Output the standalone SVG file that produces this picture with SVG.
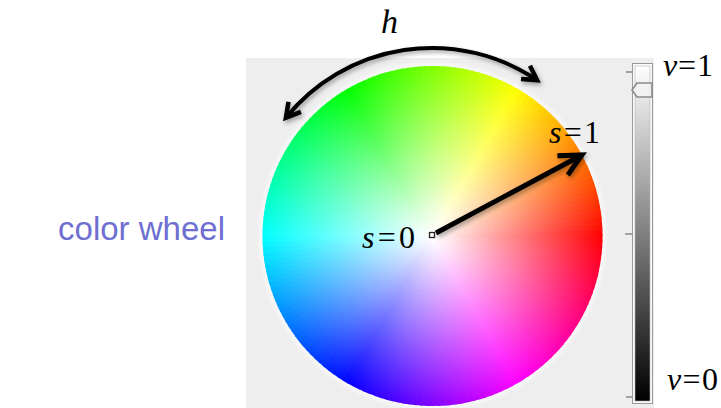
<svg xmlns="http://www.w3.org/2000/svg" xmlns:xlink="http://www.w3.org/1999/xlink" width="721" height="408" viewBox="0 0 721 408">
<style>
.math{font-family:"Liberation Serif","Times New Roman",serif;font-size:32px;fill:#000}
.var{font-style:italic}
.lbl{font-family:"Liberation Sans",Arial,sans-serif;font-size:33px;fill:#6f6fd2}
.tick{stroke:#8a8a8a;stroke-width:1.5}
.conn{fill:none;stroke:#000;stroke-linecap:butt}
</style>
<defs>
<path id="w" d="M0,0 L170,0 A170,170 0 0 0 169.838,-7.415 Z"/>
<radialGradient id="sat" cx="0.5" cy="0.5" r="0.5">
<stop offset="0" stop-color="#fff" stop-opacity="1"/>
<stop offset="1" stop-color="#fff" stop-opacity="0"/>
</radialGradient>
<linearGradient id="vgrad" x1="0" y1="0" x2="0" y2="1">
<stop offset="0" stop-color="#ffffff"/>
<stop offset="1" stop-color="#000000"/>
</linearGradient>
<filter id="blur" x="-10%" y="-10%" width="120%" height="120%"><feGaussianBlur stdDeviation="2"/></filter>
<filter id="sh" x="-20%" y="-20%" width="140%" height="160%"><feDropShadow dx="1.5" dy="2.5" stdDeviation="2" flood-color="#000" flood-opacity="0.35"/></filter>
<marker id="ah1" viewBox="-18 -12 24 24" markerWidth="24" markerHeight="24" refX="0" refY="0" orient="auto-start-reverse" markerUnits="userSpaceOnUse">
<path d="M-14,-8 L0,0 L-14,8" fill="none" stroke="#000" stroke-width="4.5"/>
</marker>
<marker id="ah2" viewBox="-26 -16 34 32" markerWidth="34" markerHeight="32" refX="0" refY="0" orient="auto" markerUnits="userSpaceOnUse">
<path d="M-22,-11 L0,0 L-22,11" fill="none" stroke="#000" stroke-width="5"/>
</marker>
</defs>
<rect x="0" y="0" width="721" height="408" fill="#fff"/>
<g id="panel"><rect x="246" y="58" width="408" height="350" fill="#eeeeee"/></g>
<g id="wheel" transform="translate(432.5 236)">
<circle r="171" fill="none" stroke="#fff" stroke-width="4" opacity="0.8" filter="url(#blur)"/>
<use href="#w" transform="rotate(0)" fill="hsl(1,100%,50%)"/>
<use href="#w" transform="rotate(-2)" fill="hsl(3,100%,50%)"/>
<use href="#w" transform="rotate(-4)" fill="hsl(5,100%,50%)"/>
<use href="#w" transform="rotate(-6)" fill="hsl(7,100%,50%)"/>
<use href="#w" transform="rotate(-8)" fill="hsl(9,100%,50%)"/>
<use href="#w" transform="rotate(-10)" fill="hsl(11,100%,50%)"/>
<use href="#w" transform="rotate(-12)" fill="hsl(13,100%,50%)"/>
<use href="#w" transform="rotate(-14)" fill="hsl(15,100%,50%)"/>
<use href="#w" transform="rotate(-16)" fill="hsl(17,100%,50%)"/>
<use href="#w" transform="rotate(-18)" fill="hsl(19,100%,50%)"/>
<use href="#w" transform="rotate(-20)" fill="hsl(21,100%,50%)"/>
<use href="#w" transform="rotate(-22)" fill="hsl(23,100%,50%)"/>
<use href="#w" transform="rotate(-24)" fill="hsl(25,100%,50%)"/>
<use href="#w" transform="rotate(-26)" fill="hsl(27,100%,50%)"/>
<use href="#w" transform="rotate(-28)" fill="hsl(29,100%,50%)"/>
<use href="#w" transform="rotate(-30)" fill="hsl(31,100%,50%)"/>
<use href="#w" transform="rotate(-32)" fill="hsl(33,100%,50%)"/>
<use href="#w" transform="rotate(-34)" fill="hsl(35,100%,50%)"/>
<use href="#w" transform="rotate(-36)" fill="hsl(37,100%,50%)"/>
<use href="#w" transform="rotate(-38)" fill="hsl(39,100%,50%)"/>
<use href="#w" transform="rotate(-40)" fill="hsl(41,100%,50%)"/>
<use href="#w" transform="rotate(-42)" fill="hsl(43,100%,50%)"/>
<use href="#w" transform="rotate(-44)" fill="hsl(45,100%,50%)"/>
<use href="#w" transform="rotate(-46)" fill="hsl(47,100%,50%)"/>
<use href="#w" transform="rotate(-48)" fill="hsl(49,100%,50%)"/>
<use href="#w" transform="rotate(-50)" fill="hsl(51,100%,50%)"/>
<use href="#w" transform="rotate(-52)" fill="hsl(53,100%,50%)"/>
<use href="#w" transform="rotate(-54)" fill="hsl(55,100%,50%)"/>
<use href="#w" transform="rotate(-56)" fill="hsl(57,100%,50%)"/>
<use href="#w" transform="rotate(-58)" fill="hsl(59,100%,50%)"/>
<use href="#w" transform="rotate(-60)" fill="hsl(61,100%,50%)"/>
<use href="#w" transform="rotate(-62)" fill="hsl(63,100%,50%)"/>
<use href="#w" transform="rotate(-64)" fill="hsl(65,100%,50%)"/>
<use href="#w" transform="rotate(-66)" fill="hsl(67,100%,50%)"/>
<use href="#w" transform="rotate(-68)" fill="hsl(69,100%,50%)"/>
<use href="#w" transform="rotate(-70)" fill="hsl(71,100%,50%)"/>
<use href="#w" transform="rotate(-72)" fill="hsl(73,100%,50%)"/>
<use href="#w" transform="rotate(-74)" fill="hsl(75,100%,50%)"/>
<use href="#w" transform="rotate(-76)" fill="hsl(77,100%,50%)"/>
<use href="#w" transform="rotate(-78)" fill="hsl(79,100%,50%)"/>
<use href="#w" transform="rotate(-80)" fill="hsl(81,100%,50%)"/>
<use href="#w" transform="rotate(-82)" fill="hsl(83,100%,50%)"/>
<use href="#w" transform="rotate(-84)" fill="hsl(85,100%,50%)"/>
<use href="#w" transform="rotate(-86)" fill="hsl(87,100%,50%)"/>
<use href="#w" transform="rotate(-88)" fill="hsl(89,100%,50%)"/>
<use href="#w" transform="rotate(-90)" fill="hsl(91,100%,50%)"/>
<use href="#w" transform="rotate(-92)" fill="hsl(93,100%,50%)"/>
<use href="#w" transform="rotate(-94)" fill="hsl(95,100%,50%)"/>
<use href="#w" transform="rotate(-96)" fill="hsl(97,100%,50%)"/>
<use href="#w" transform="rotate(-98)" fill="hsl(99,100%,50%)"/>
<use href="#w" transform="rotate(-100)" fill="hsl(101,100%,50%)"/>
<use href="#w" transform="rotate(-102)" fill="hsl(103,100%,50%)"/>
<use href="#w" transform="rotate(-104)" fill="hsl(105,100%,50%)"/>
<use href="#w" transform="rotate(-106)" fill="hsl(107,100%,50%)"/>
<use href="#w" transform="rotate(-108)" fill="hsl(109,100%,50%)"/>
<use href="#w" transform="rotate(-110)" fill="hsl(111,100%,50%)"/>
<use href="#w" transform="rotate(-112)" fill="hsl(113,100%,50%)"/>
<use href="#w" transform="rotate(-114)" fill="hsl(115,100%,50%)"/>
<use href="#w" transform="rotate(-116)" fill="hsl(117,100%,50%)"/>
<use href="#w" transform="rotate(-118)" fill="hsl(119,100%,50%)"/>
<use href="#w" transform="rotate(-120)" fill="hsl(121,100%,50%)"/>
<use href="#w" transform="rotate(-122)" fill="hsl(123,100%,50%)"/>
<use href="#w" transform="rotate(-124)" fill="hsl(125,100%,50%)"/>
<use href="#w" transform="rotate(-126)" fill="hsl(127,100%,50%)"/>
<use href="#w" transform="rotate(-128)" fill="hsl(129,100%,50%)"/>
<use href="#w" transform="rotate(-130)" fill="hsl(131,100%,50%)"/>
<use href="#w" transform="rotate(-132)" fill="hsl(133,100%,50%)"/>
<use href="#w" transform="rotate(-134)" fill="hsl(135,100%,50%)"/>
<use href="#w" transform="rotate(-136)" fill="hsl(137,100%,50%)"/>
<use href="#w" transform="rotate(-138)" fill="hsl(139,100%,50%)"/>
<use href="#w" transform="rotate(-140)" fill="hsl(141,100%,50%)"/>
<use href="#w" transform="rotate(-142)" fill="hsl(143,100%,50%)"/>
<use href="#w" transform="rotate(-144)" fill="hsl(145,100%,50%)"/>
<use href="#w" transform="rotate(-146)" fill="hsl(147,100%,50%)"/>
<use href="#w" transform="rotate(-148)" fill="hsl(149,100%,50%)"/>
<use href="#w" transform="rotate(-150)" fill="hsl(151,100%,50%)"/>
<use href="#w" transform="rotate(-152)" fill="hsl(153,100%,50%)"/>
<use href="#w" transform="rotate(-154)" fill="hsl(155,100%,50%)"/>
<use href="#w" transform="rotate(-156)" fill="hsl(157,100%,50%)"/>
<use href="#w" transform="rotate(-158)" fill="hsl(159,100%,50%)"/>
<use href="#w" transform="rotate(-160)" fill="hsl(161,100%,50%)"/>
<use href="#w" transform="rotate(-162)" fill="hsl(163,100%,50%)"/>
<use href="#w" transform="rotate(-164)" fill="hsl(165,100%,50%)"/>
<use href="#w" transform="rotate(-166)" fill="hsl(167,100%,50%)"/>
<use href="#w" transform="rotate(-168)" fill="hsl(169,100%,50%)"/>
<use href="#w" transform="rotate(-170)" fill="hsl(171,100%,50%)"/>
<use href="#w" transform="rotate(-172)" fill="hsl(173,100%,50%)"/>
<use href="#w" transform="rotate(-174)" fill="hsl(175,100%,50%)"/>
<use href="#w" transform="rotate(-176)" fill="hsl(177,100%,50%)"/>
<use href="#w" transform="rotate(-178)" fill="hsl(179,100%,50%)"/>
<use href="#w" transform="rotate(-180)" fill="hsl(181,100%,50%)"/>
<use href="#w" transform="rotate(-182)" fill="hsl(183,100%,50%)"/>
<use href="#w" transform="rotate(-184)" fill="hsl(185,100%,50%)"/>
<use href="#w" transform="rotate(-186)" fill="hsl(187,100%,50%)"/>
<use href="#w" transform="rotate(-188)" fill="hsl(189,100%,50%)"/>
<use href="#w" transform="rotate(-190)" fill="hsl(191,100%,50%)"/>
<use href="#w" transform="rotate(-192)" fill="hsl(193,100%,50%)"/>
<use href="#w" transform="rotate(-194)" fill="hsl(195,100%,50%)"/>
<use href="#w" transform="rotate(-196)" fill="hsl(197,100%,50%)"/>
<use href="#w" transform="rotate(-198)" fill="hsl(199,100%,50%)"/>
<use href="#w" transform="rotate(-200)" fill="hsl(201,100%,50%)"/>
<use href="#w" transform="rotate(-202)" fill="hsl(203,100%,50%)"/>
<use href="#w" transform="rotate(-204)" fill="hsl(205,100%,50%)"/>
<use href="#w" transform="rotate(-206)" fill="hsl(207,100%,50%)"/>
<use href="#w" transform="rotate(-208)" fill="hsl(209,100%,50%)"/>
<use href="#w" transform="rotate(-210)" fill="hsl(211,100%,50%)"/>
<use href="#w" transform="rotate(-212)" fill="hsl(213,100%,50%)"/>
<use href="#w" transform="rotate(-214)" fill="hsl(215,100%,50%)"/>
<use href="#w" transform="rotate(-216)" fill="hsl(217,100%,50%)"/>
<use href="#w" transform="rotate(-218)" fill="hsl(219,100%,50%)"/>
<use href="#w" transform="rotate(-220)" fill="hsl(221,100%,50%)"/>
<use href="#w" transform="rotate(-222)" fill="hsl(223,100%,50%)"/>
<use href="#w" transform="rotate(-224)" fill="hsl(225,100%,50%)"/>
<use href="#w" transform="rotate(-226)" fill="hsl(227,100%,50%)"/>
<use href="#w" transform="rotate(-228)" fill="hsl(229,100%,50%)"/>
<use href="#w" transform="rotate(-230)" fill="hsl(231,100%,50%)"/>
<use href="#w" transform="rotate(-232)" fill="hsl(233,100%,50%)"/>
<use href="#w" transform="rotate(-234)" fill="hsl(235,100%,50%)"/>
<use href="#w" transform="rotate(-236)" fill="hsl(237,100%,50%)"/>
<use href="#w" transform="rotate(-238)" fill="hsl(239,100%,50%)"/>
<use href="#w" transform="rotate(-240)" fill="hsl(241,100%,50%)"/>
<use href="#w" transform="rotate(-242)" fill="hsl(243,100%,50%)"/>
<use href="#w" transform="rotate(-244)" fill="hsl(245,100%,50%)"/>
<use href="#w" transform="rotate(-246)" fill="hsl(247,100%,50%)"/>
<use href="#w" transform="rotate(-248)" fill="hsl(249,100%,50%)"/>
<use href="#w" transform="rotate(-250)" fill="hsl(251,100%,50%)"/>
<use href="#w" transform="rotate(-252)" fill="hsl(253,100%,50%)"/>
<use href="#w" transform="rotate(-254)" fill="hsl(255,100%,50%)"/>
<use href="#w" transform="rotate(-256)" fill="hsl(257,100%,50%)"/>
<use href="#w" transform="rotate(-258)" fill="hsl(259,100%,50%)"/>
<use href="#w" transform="rotate(-260)" fill="hsl(261,100%,50%)"/>
<use href="#w" transform="rotate(-262)" fill="hsl(263,100%,50%)"/>
<use href="#w" transform="rotate(-264)" fill="hsl(265,100%,50%)"/>
<use href="#w" transform="rotate(-266)" fill="hsl(267,100%,50%)"/>
<use href="#w" transform="rotate(-268)" fill="hsl(269,100%,50%)"/>
<use href="#w" transform="rotate(-270)" fill="hsl(271,100%,50%)"/>
<use href="#w" transform="rotate(-272)" fill="hsl(273,100%,50%)"/>
<use href="#w" transform="rotate(-274)" fill="hsl(275,100%,50%)"/>
<use href="#w" transform="rotate(-276)" fill="hsl(277,100%,50%)"/>
<use href="#w" transform="rotate(-278)" fill="hsl(279,100%,50%)"/>
<use href="#w" transform="rotate(-280)" fill="hsl(281,100%,50%)"/>
<use href="#w" transform="rotate(-282)" fill="hsl(283,100%,50%)"/>
<use href="#w" transform="rotate(-284)" fill="hsl(285,100%,50%)"/>
<use href="#w" transform="rotate(-286)" fill="hsl(287,100%,50%)"/>
<use href="#w" transform="rotate(-288)" fill="hsl(289,100%,50%)"/>
<use href="#w" transform="rotate(-290)" fill="hsl(291,100%,50%)"/>
<use href="#w" transform="rotate(-292)" fill="hsl(293,100%,50%)"/>
<use href="#w" transform="rotate(-294)" fill="hsl(295,100%,50%)"/>
<use href="#w" transform="rotate(-296)" fill="hsl(297,100%,50%)"/>
<use href="#w" transform="rotate(-298)" fill="hsl(299,100%,50%)"/>
<use href="#w" transform="rotate(-300)" fill="hsl(301,100%,50%)"/>
<use href="#w" transform="rotate(-302)" fill="hsl(303,100%,50%)"/>
<use href="#w" transform="rotate(-304)" fill="hsl(305,100%,50%)"/>
<use href="#w" transform="rotate(-306)" fill="hsl(307,100%,50%)"/>
<use href="#w" transform="rotate(-308)" fill="hsl(309,100%,50%)"/>
<use href="#w" transform="rotate(-310)" fill="hsl(311,100%,50%)"/>
<use href="#w" transform="rotate(-312)" fill="hsl(313,100%,50%)"/>
<use href="#w" transform="rotate(-314)" fill="hsl(315,100%,50%)"/>
<use href="#w" transform="rotate(-316)" fill="hsl(317,100%,50%)"/>
<use href="#w" transform="rotate(-318)" fill="hsl(319,100%,50%)"/>
<use href="#w" transform="rotate(-320)" fill="hsl(321,100%,50%)"/>
<use href="#w" transform="rotate(-322)" fill="hsl(323,100%,50%)"/>
<use href="#w" transform="rotate(-324)" fill="hsl(325,100%,50%)"/>
<use href="#w" transform="rotate(-326)" fill="hsl(327,100%,50%)"/>
<use href="#w" transform="rotate(-328)" fill="hsl(329,100%,50%)"/>
<use href="#w" transform="rotate(-330)" fill="hsl(331,100%,50%)"/>
<use href="#w" transform="rotate(-332)" fill="hsl(333,100%,50%)"/>
<use href="#w" transform="rotate(-334)" fill="hsl(335,100%,50%)"/>
<use href="#w" transform="rotate(-336)" fill="hsl(337,100%,50%)"/>
<use href="#w" transform="rotate(-338)" fill="hsl(339,100%,50%)"/>
<use href="#w" transform="rotate(-340)" fill="hsl(341,100%,50%)"/>
<use href="#w" transform="rotate(-342)" fill="hsl(343,100%,50%)"/>
<use href="#w" transform="rotate(-344)" fill="hsl(345,100%,50%)"/>
<use href="#w" transform="rotate(-346)" fill="hsl(347,100%,50%)"/>
<use href="#w" transform="rotate(-348)" fill="hsl(349,100%,50%)"/>
<use href="#w" transform="rotate(-350)" fill="hsl(351,100%,50%)"/>
<use href="#w" transform="rotate(-352)" fill="hsl(353,100%,50%)"/>
<use href="#w" transform="rotate(-354)" fill="hsl(355,100%,50%)"/>
<use href="#w" transform="rotate(-356)" fill="hsl(357,100%,50%)"/>
<use href="#w" transform="rotate(-358)" fill="hsl(359,100%,50%)"/>
<circle r="170.5" fill="url(#sat)"/>
</g>
<g id="slider">
<line class="tick" x1="626" y1="72" x2="632" y2="72"/>
<line class="tick" x1="625" y1="234" x2="632" y2="234"/>
<line class="tick" x1="626" y1="397" x2="632" y2="397"/>
<rect x="632.5" y="63.5" width="20" height="340" fill="#fafafa" stroke="#9a9a9a" stroke-width="1"/>
<rect x="635" y="66" width="15" height="335" fill="url(#vgrad)" stroke="#b5b5b5" stroke-width="0.6"/>
<path d="M632,90 L637,83 L652,83 L652,97 L637,97 Z" fill="#f4f4f4" fill-opacity="0.7" stroke="#8a8a8a" stroke-width="1.6" stroke-linejoin="round"/>
</g>
<g id="center-marker"><rect x="429.5" y="232.5" width="5" height="5" fill="#fff" stroke="#222" stroke-width="1.3"/></g>
<g id="connectors" filter="url(#sh)">
<path id="hue-arc" class="conn" d="M285.9,117.7 A188,188 0 0 1 537.1,80.1" stroke-width="4" marker-start="url(#ah1)" marker-end="url(#ah1)"/>
<path id="sat-arrow" class="conn" d="M436,233 L582,155" stroke-width="5" marker-end="url(#ah2)"/>
</g>
<g id="labels">
<text class="math var" x="381" y="33" style="font-size:34px">h</text>
<text class="math" x="663" y="76" textLength="50" lengthAdjust="spacing"><tspan class="var">v</tspan>=1</text>
<text class="math" x="667" y="390" textLength="51" lengthAdjust="spacing"><tspan class="var">v</tspan>=0</text>
<text class="math" x="549" y="143" textLength="51" lengthAdjust="spacing"><tspan class="var">s</tspan>=1</text>
<text class="math" x="362" y="248" textLength="53" lengthAdjust="spacing"><tspan class="var">s</tspan>=0</text>
<text class="lbl" x="225" y="240" text-anchor="end">color wheel</text>
</g>
</svg>
